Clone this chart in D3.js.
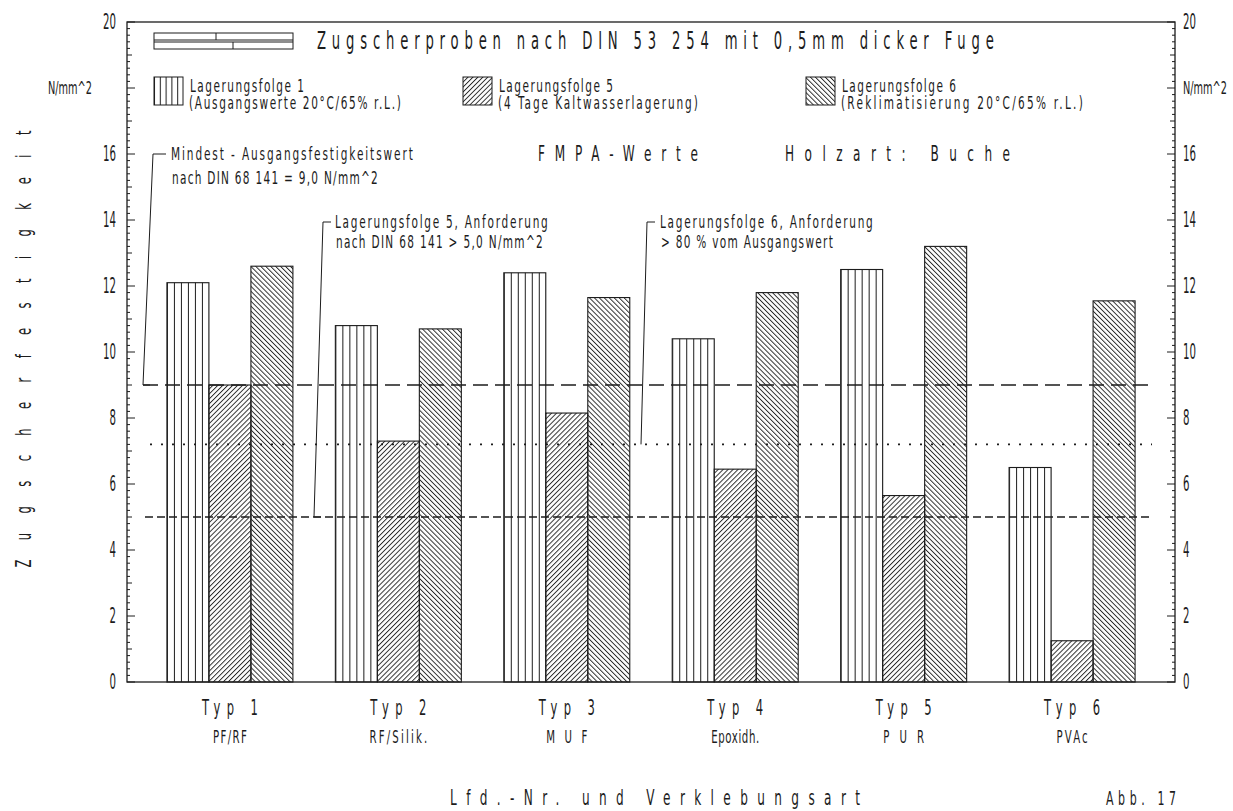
<!DOCTYPE html>
<html>
<head>
<meta charset="utf-8">
<script src="https://cdn.jsdelivr.net/npm/d3@7"></script>
<style>
  html, body { margin: 0; padding: 0; background: #fff; }
  svg { display: block; }
  text { font-family: "DejaVu Sans", "Liberation Sans", sans-serif; fill: #1c1c1c; }
</style>
</head>
<body>
<svg id="chart" width="1233" height="811"></svg>
<script>
// Zugscherfestigkeit nach Lagerungsfolge, Holzart Buche (FMPA-Werte)
const types   = ["Typ 1", "Typ 2", "Typ 3", "Typ 4", "Typ 5", "Typ 6"];
const glues   = ["PF/RF", "RF/Silik.", "M U F", "Epoxidh.", "P U R", "PVAc"];
const series  = ["Lagerungsfolge 1", "Lagerungsfolge 5", "Lagerungsfolge 6"];
const seriesNotes = ["(Ausgangswerte 20°C/65% r.L.)", "(4 Tage Kaltwasserlagerung)", "(Reklimatisierung 20°C/65% r.L.)"];
const folge1  = [12.1, 10.8, 12.4, 10.4, 12.5, 6.5];
const folge5  = [9.0, 7.3, 8.15, 6.45, 5.65, 1.25];
const folge6  = [12.6, 10.7, 11.65, 11.8, 13.2, 11.55];
const yTicks  = [0, 2, 4, 6, 8, 10, 12, 14, 16, 20];
const minWert = 9.0;              // Mindest-Ausgangsfestigkeit nach DIN 68 141
const anf5    = 5.0;              // Lagerungsfolge 5, Anforderung
const anf6    = 0.8 * minWert;    // Lagerungsfolge 6, > 80 % vom Ausgangswert

const ink = "#1c1c1c";
const svg = d3.select("#chart");
const plotL = 127, plotR = 1175, plotT = 22, plotB = 682;

const y = d3.scaleLinear().domain([0, 20]).range([plotB, plotT]);
const x = d3.scaleBand().domain(types).range([plotL, plotR]).paddingInner(0.252).paddingOuter(0.237);
const xs = d3.scaleBand().domain(series).range([0, x.bandwidth()]);

// hatch patterns
const defs = svg.append("defs");
function vertPattern(id, cols) {
  const p = defs.append("pattern").attr("id", id)
    .attr("patternUnits", "objectBoundingBox").attr("width", 1 / cols).attr("height", 1);
  p.append("line").attr("x1", 0.5).attr("x2", 0.5).attr("y1", 0).attr("y2", 2000)
    .attr("stroke", ink).attr("stroke-width", 1);
}
function diagPattern(id, angle) {
  const p = defs.append("pattern").attr("id", id)
    .attr("patternUnits", "userSpaceOnUse").attr("width", 3.5).attr("height", 10)
    .attr("patternTransform", `rotate(${angle})`);
  p.append("line").attr("x1", 0.5).attr("x2", 0.5).attr("y1", 0).attr("y2", 10)
    .attr("stroke", ink).attr("stroke-width", 0.9);
}
vertPattern("h1", 6);
vertPattern("h1legend", 5);
diagPattern("h5", 45);
diagPattern("h6", -45);
const fills = ["url(#h1)", "url(#h5)", "url(#h6)"];
const legendFills = ["url(#h1legend)", "url(#h5)", "url(#h6)"];

// narrow plotter-style lettering: glyphs squeezed horizontally, spacing fitted to a width
function txt(str, px, py, size, opt = {}) {
  const anchor = opt.anchor || "start";
  let sx = opt.sx || 0.62;
  const g = svg.append("g");
  const t = g.append("text").attr("x", 0).attr("y", 0)
    .attr("font-size", size)
    .attr("text-anchor", anchor)
    .attr("dominant-baseline", "central")
    .text(str);
  let ls = 0;
  if (opt.len) {
    const nat = t.node().getComputedTextLength();
    const n = Math.max(str.length - 1, 1);
    ls = (opt.len / sx - nat) / n;
    if (ls < 0) { ls = 0; sx = opt.len / nat; }
    t.style("letter-spacing", ls + "px");
  }
  // letter-spacing trails the last glyph; shift so the ink sits where asked
  const shift = anchor === "end" ? ls * sx : anchor === "middle" ? ls * sx / 2 : 0;
  const rot = opt.rotate ? ` rotate(${opt.rotate})` : "";
  g.attr("transform", `translate(${px},${py})${rot} translate(${shift},0) scale(${sx},1)`);
  return t;
}

// bars
const rows = types.map((t, i) => ({ type: t, values: [folge1[i], folge5[i], folge6[i]] }));
const groups = svg.append("g").selectAll("g").data(rows).join("g")
  .attr("transform", d => `translate(${x(d.type)},0)`);
groups.selectAll("rect")
  .data(d => d.values.map((v, k) => ({ key: series[k], v, k })))
  .join("rect")
  .attr("x", d => xs(d.key))
  .attr("width", xs.bandwidth())
  .attr("y", d => y(d.v))
  .attr("height", d => y(0) - y(d.v))
  .attr("fill", d => fills[d.k])
  .attr("stroke", ink).attr("stroke-width", 1.1);

// reference lines
const refEnd = 1152;
const refs = [
  { v: minWert, x0: 143, dash: "15,7", w: 1.6 },
  { v: anf6, x0: 150, dash: "2,9", w: 1.6 },
  { v: anf5, x0: 145, dash: "8,4", w: 1.4 }
];
svg.append("g").selectAll("line").data(refs).join("line")
  .attr("x1", d => d.x0).attr("x2", refEnd)
  .attr("y1", d => y(d.v)).attr("y2", d => y(d.v))
  .attr("stroke", ink).attr("stroke-width", d => d.w)
  .attr("stroke-dasharray", d => d.dash);

// frame
svg.append("rect").attr("x", plotL).attr("y", plotT)
  .attr("width", plotR - plotL).attr("height", plotB - plotT)
  .attr("fill", "none").attr("stroke", ink).attr("stroke-width", 1.3);

// axis ticks (inward) on both sides
const minor = d3.range(0, 20.001, 0.2).map(v => Math.round(v * 10) / 10);
const tickLen = v => (Math.abs(v % 2) < 1e-6 ? 8 : Math.abs(v % 1) < 1e-6 ? 5 : 3);
svg.append("g").selectAll("line").data(minor).join("line")
  .attr("x1", plotL).attr("x2", v => plotL + tickLen(v))
  .attr("y1", v => y(v)).attr("y2", v => y(v))
  .attr("stroke", ink).attr("stroke-width", 1);
svg.append("g").selectAll("line").data(minor).join("line")
  .attr("x1", plotR).attr("x2", v => plotR - tickLen(v))
  .attr("y1", v => y(v)).attr("y2", v => y(v))
  .attr("stroke", ink).attr("stroke-width", 1);

// tick labels
yTicks.forEach(v => {
  const w = String(v).length * 6.5;
  txt(String(v), plotL - 11, y(v), 21, { anchor: "end", len: w, sx: 0.5 });
  txt(String(v), plotR + 8, y(v), 21, { anchor: "start", len: w, sx: 0.5 });
});
txt("N/mm^2", 48, y(18), 18, { len: 44 });
txt("N/mm^2", plotR + 8, y(18), 18, { len: 44 });

// axis titles
txt("Zugscherfestigkeit", 24, 349, 21, { anchor: "middle", rotate: -90, len: 437, sx: 0.55 });
txt("Lfd.-Nr. und Verklebungsart", 655, 798, 22, { anchor: "middle", len: 410, sx: 0.55 });
txt("Abb. 17", 1141, 798, 20, { anchor: "middle", len: 70, sx: 0.55 });

// category labels
const glueLen = [34, 58, 41, 48, 41, 31];
types.forEach((t, i) => {
  const cx = x(t) + x.bandwidth() / 2;
  txt(t, cx, y(0) + 26, 21, { anchor: "middle", len: 56, sx: 0.55 });
  txt(glues[i], cx, y(0) + 55, 17, { anchor: "middle", len: glueLen[i], sx: 0.6 });
});

// title with specimen sketch
const titleY = 41;
const spec = svg.append("g");
spec.append("rect").attr("x", 154).attr("y", titleY - 8).attr("width", 139).attr("height", 16)
  .attr("fill", "none").attr("stroke", ink).attr("stroke-width", 1);
spec.append("line").attr("x1", 154).attr("x2", 293).attr("y1", titleY - 1).attr("y2", titleY - 1).attr("stroke", ink);
spec.append("line").attr("x1", 154).attr("x2", 293).attr("y1", titleY + 1).attr("y2", titleY + 1).attr("stroke", ink);
spec.append("line").attr("x1", 216).attr("x2", 216).attr("y1", titleY - 8).attr("y2", titleY - 1).attr("stroke", ink);
spec.append("line").attr("x1", 233).attr("x2", 233).attr("y1", titleY + 1).attr("y2", titleY + 8).attr("stroke", ink);
txt("Zugscherproben nach DIN 53 254 mit 0,5mm dicker Fuge", 317, titleY, 24, { len: 677, sx: 0.55 });

// legend
const legendX = [154, 463, 806];
const legY = y(18);
const noteLen = [212, 200, 242];
series.forEach((s, k) => {
  const lx = legendX[k];
  svg.append("rect").attr("x", lx).attr("y", legY - 11).attr("width", 29).attr("height", 28)
    .attr("fill", legendFills[k]).attr("stroke", ink).attr("stroke-width", 1);
  txt(s, lx + 36, legY - 2, 17, { len: 114 });
  txt(seriesNotes[k], lx + 35, legY + 15, 17, { len: noteLen[k] });
});

// header notes
txt("FMPA-Werte", 538, y(16), 22, { len: 160, sx: 0.55 });
txt("Holzart: Buche", 785, y(16), 22, { len: 225, sx: 0.55 });

// annotations with leader lines
function leader(pts) {
  svg.append("path").attr("d", d3.line()(pts)).attr("fill", "none")
    .attr("stroke", ink).attr("stroke-width", 1);
}
const a1 = y(16), a2 = y(14) + 2;
leader([[166, a1], [153, a1], [143, y(minWert)], [150, y(minWert)]]);
txt("Mindest - Ausgangsfestigkeitswert", 171, a1, 17, { len: 242 });
txt("nach DIN 68 141 = 9,0 N/mm^2", 172, a1 + 24, 17, { len: 206 });

leader([[331, a2], [323, a2], [314, y(anf5)], [321, y(anf5)]]);
txt("Lagerungsfolge 5, Anforderung", 335, a2, 17, { len: 213 });
txt("nach DIN 68 141 > 5,0 N/mm^2", 336, a2 + 20, 17, { len: 207 });

leader([[655, a2], [647, a2], [641, y(anf6)]]);
txt("Lagerungsfolge 6, Anforderung", 660, a2, 17, { len: 213 });
txt("> 80 % vom Ausgangswert", 661, a2 + 20, 17, { len: 172 });
</script>
</body>
</html>
